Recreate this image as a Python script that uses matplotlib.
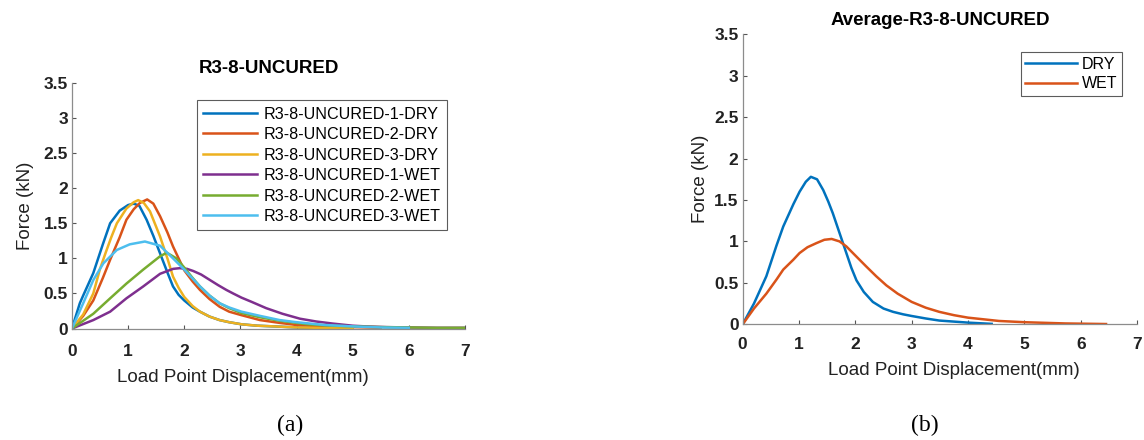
import numpy as np
import matplotlib.pyplot as plt

plt.rcParams['font.family'] = ['Liberation Sans', 'DejaVu Sans']

# colours used by MATLAB's default line order
colors = ['#0072BD', '#D95319', '#EDB120', '#7E2F8E', '#77AC30', '#4DBEEE']

# ---- panel (a): individual specimens ----
labels_a = ['R3-8-UNCURED-1-DRY', 'R3-8-UNCURED-2-DRY', 'R3-8-UNCURED-3-DRY',
            'R3-8-UNCURED-1-WET', 'R3-8-UNCURED-2-WET', 'R3-8-UNCURED-3-WET']

dry1_x = [0, 0.14, 0.2, 0.38, 0.55, 0.68, 0.85, 1.0, 1.1, 1.2, 1.33, 1.45, 1.57, 1.7, 1.8, 1.9, 2.0,
          2.15, 2.28, 2.45, 2.63, 2.8, 3.02, 3.3, 3.6, 4.0, 4.5]
dry1_y = [0, 0.36, 0.47, 0.79, 1.2, 1.5, 1.68, 1.76, 1.78, 1.75, 1.55, 1.32, 1.07, 0.8, 0.6, 0.48, 0.4,
          0.3, 0.24, 0.17, 0.12, 0.09, 0.06, 0.04, 0.03, 0.015, 0.005]

dry2_x = [0, 0.2, 0.38, 0.55, 0.68, 0.85, 0.97, 1.1, 1.21, 1.34, 1.45, 1.57, 1.7, 1.8, 1.9, 2.0,
          2.15, 2.28, 2.45, 2.63, 2.8, 3.02, 3.35, 3.7, 4.0, 4.5, 5.0, 5.5]
dry2_y = [0, 0.18, 0.4, 0.72, 0.98, 1.3, 1.55, 1.7, 1.79, 1.84, 1.78, 1.6, 1.37, 1.17, 1.0, 0.83,
          0.67, 0.55, 0.42, 0.31, 0.24, 0.19, 0.12, 0.08, 0.05, 0.03, 0.02, 0.01]

dry3_x = [0, 0.2, 0.38, 0.5, 0.6, 0.7, 0.8, 0.97, 1.1, 1.18, 1.28, 1.39, 1.5, 1.57, 1.7, 1.8, 1.9, 2.0,
          2.15, 2.28, 2.45, 2.63, 2.8, 3.02, 3.3, 3.6, 4.0, 4.5, 5.0]
dry3_y = [0, 0.2, 0.5, 0.85, 1.08, 1.3, 1.5, 1.71, 1.8, 1.83, 1.79, 1.67, 1.45, 1.31, 1.0, 0.74, 0.58, 0.45,
          0.32, 0.24, 0.17, 0.12, 0.09, 0.06, 0.04, 0.03, 0.015, 0.008, 0.004]

wet1_x = [0, 0.38, 0.68, 0.97, 1.27, 1.57, 1.8, 1.92, 2.05, 2.16, 2.3, 2.46, 2.6, 2.75, 2.87, 3.02,
          3.2, 3.46, 3.75, 4.06, 4.35, 4.65, 5.0, 5.24, 5.6, 6.0, 6.5, 7.0]
wet1_y = [0, 0.12, 0.24, 0.43, 0.6, 0.78, 0.85, 0.86, 0.85, 0.82, 0.77, 0.69, 0.62, 0.55, 0.5, 0.44,
          0.38, 0.29, 0.21, 0.14, 0.1, 0.07, 0.04, 0.03, 0.02, 0.015, 0.01, 0.01]

wet2_x = [0, 0.38, 0.68, 0.97, 1.27, 1.57, 1.69, 1.86, 2.0, 2.14, 2.28, 2.45, 2.63, 2.8, 3.02,
          3.35, 3.7, 4.2, 4.6, 5.0, 5.5, 6.0, 6.5, 7.0]
wet2_y = [0, 0.21, 0.43, 0.64, 0.84, 1.03, 1.08, 1.0, 0.87, 0.73, 0.6, 0.47, 0.36, 0.29, 0.22,
          0.16, 0.11, 0.06, 0.04, 0.03, 0.02, 0.015, 0.01, 0.01]

wet3_x = [0, 0.1, 0.2, 0.38, 0.56, 0.8, 1.03, 1.3, 1.57, 1.8, 2.0, 2.14, 2.28, 2.45, 2.63, 2.8,
          3.02, 3.35, 3.7, 4.0, 4.5, 5.0, 5.5, 6.0]
wet3_y = [0, 0.18, 0.36, 0.69, 0.93, 1.12, 1.2, 1.24, 1.18, 1.0, 0.84, 0.72, 0.6, 0.47, 0.36, 0.3,
          0.24, 0.18, 0.12, 0.09, 0.05, 0.03, 0.015, 0.01]

# ---- panel (b): averages ----
labels_b = ['DRY', 'WET']

avg_dry_x = [0, 0.2, 0.42, 0.6, 0.72, 0.9, 1.01, 1.12, 1.21, 1.32, 1.43, 1.52, 1.6, 1.72, 1.84,
             1.93, 2.02, 2.15, 2.31, 2.5, 2.67, 2.85, 3.0, 3.25, 3.49, 4.0, 4.42]
avg_dry_y = [0, 0.25, 0.58, 0.95, 1.18, 1.45, 1.6, 1.72, 1.78, 1.75, 1.62, 1.48, 1.34, 1.1, 0.86,
             0.68, 0.53, 0.39, 0.27, 0.19, 0.15, 0.12, 0.1, 0.07, 0.045, 0.02, 0.005]

avg_wet_x = [0, 0.2, 0.42, 0.6, 0.72, 0.9, 1.01, 1.15, 1.31, 1.45, 1.58, 1.72, 1.84, 2.0, 2.19,
             2.37, 2.55, 2.75, 3.0, 3.25, 3.49, 3.75, 4.0, 4.55, 5.0, 5.73, 6.45]
avg_wet_y = [0, 0.19, 0.37, 0.54, 0.66, 0.78, 0.86, 0.93, 0.98, 1.02, 1.03, 1.0, 0.94, 0.83, 0.7,
             0.58, 0.47, 0.37, 0.27, 0.2, 0.15, 0.11, 0.08, 0.04, 0.025, 0.01, 0.003]

xticks = [0, 1, 2, 3, 4, 5, 6, 7]
yticks = [0, 0.5, 1, 1.5, 2, 2.5, 3, 3.5]
ytick_labels = ['0', '0.5', '1', '1.5', '2', '2.5', '3', '3.5']


def style_axes(ax, title, xlab_pos, ylab_pad, xpad):
    ax.set_xlim(0, 7)
    ax.set_ylim(0, 3.5)
    ax.set_xticks(xticks)
    ax.set_yticks(yticks)
    ax.set_yticklabels(ytick_labels)
    for s in ['top', 'right']:
        ax.spines[s].set_visible(False)
    for s in ['left', 'bottom']:
        ax.spines[s].set_color('#8c8c8c')
        ax.spines[s].set_linewidth(0.9)
    ax.tick_params(direction='in', length=3, width=0.8, color='#555555',
                   labelsize=12.5, pad=3)
    ax.tick_params(axis='x', pad=xpad)
    for t in ax.get_xticklabels() + ax.get_yticklabels():
        t.set_fontweight('bold')
        t.set_color('#222222')
    ax.set_xlabel('Load Point Displacement(mm)', fontsize=13.5, color='#222222')
    ax.xaxis.set_label_coords(*xlab_pos)
    ax.set_ylabel('Force (kN)', fontsize=13.5, color='#222222', labelpad=ylab_pad)
    ax.set_title(title, fontsize=13.5, fontweight='bold', pad=7)


fig = plt.figure(figsize=(11.44, 4.4), dpi=100)

ax1 = fig.add_axes([0.0629, 0.2534, 0.3435, 0.558])
series_a = [(dry1_x, dry1_y), (dry2_x, dry2_y), (dry3_x, dry3_y),
            (wet1_x, wet1_y), (wet2_x, wet2_y), (wet3_x, wet3_y)]
for (xs, ys), c, lab in zip(series_a, colors, labels_a):
    ax1.plot(xs, ys, color=c, lw=1.8, label=lab)
style_axes(ax1, 'R3-8-UNCURED', (0.435, -0.163), 7, 11)
leg1 = ax1.legend(loc='upper left', bbox_to_anchor=(0.318, 0.93), fontsize=11.6,
                  frameon=True, fancybox=False, edgecolor='#333333',
                  handlelength=3.3, borderpad=0.4, labelspacing=0.34,
                  handletextpad=0.45, borderaxespad=0)
leg1.get_frame().set_linewidth(0.8)

ax2 = fig.add_axes([0.6492, 0.263, 0.3447, 0.659])
ax2.plot(avg_dry_x, avg_dry_y, color=colors[0], lw=1.8, label=labels_b[0])
ax2.plot(avg_wet_x, avg_wet_y, color=colors[1], lw=1.8, label=labels_b[1])
style_axes(ax2, 'Average-R3-8-UNCURED', (0.535, -0.129), 4, 9)
leg2 = ax2.legend(loc='upper right', bbox_to_anchor=(0.963, 0.94), fontsize=11.5,
                  frameon=True, fancybox=False, edgecolor='#333333',
                  handlelength=3.2, borderpad=0.3, labelspacing=0.3,
                  handletextpad=0.35, borderaxespad=0)
leg2.get_frame().set_linewidth(0.8)

fig.text(290 / 1144, 1 - 425 / 440, '(a)', fontsize=17, family='Liberation Serif',
         ha='center', va='center')
fig.text(925 / 1144, 1 - 425 / 440, '(b)', fontsize=17, family='Liberation Serif',
         ha='center', va='center')

fig.savefig('out.png', dpi=100)
